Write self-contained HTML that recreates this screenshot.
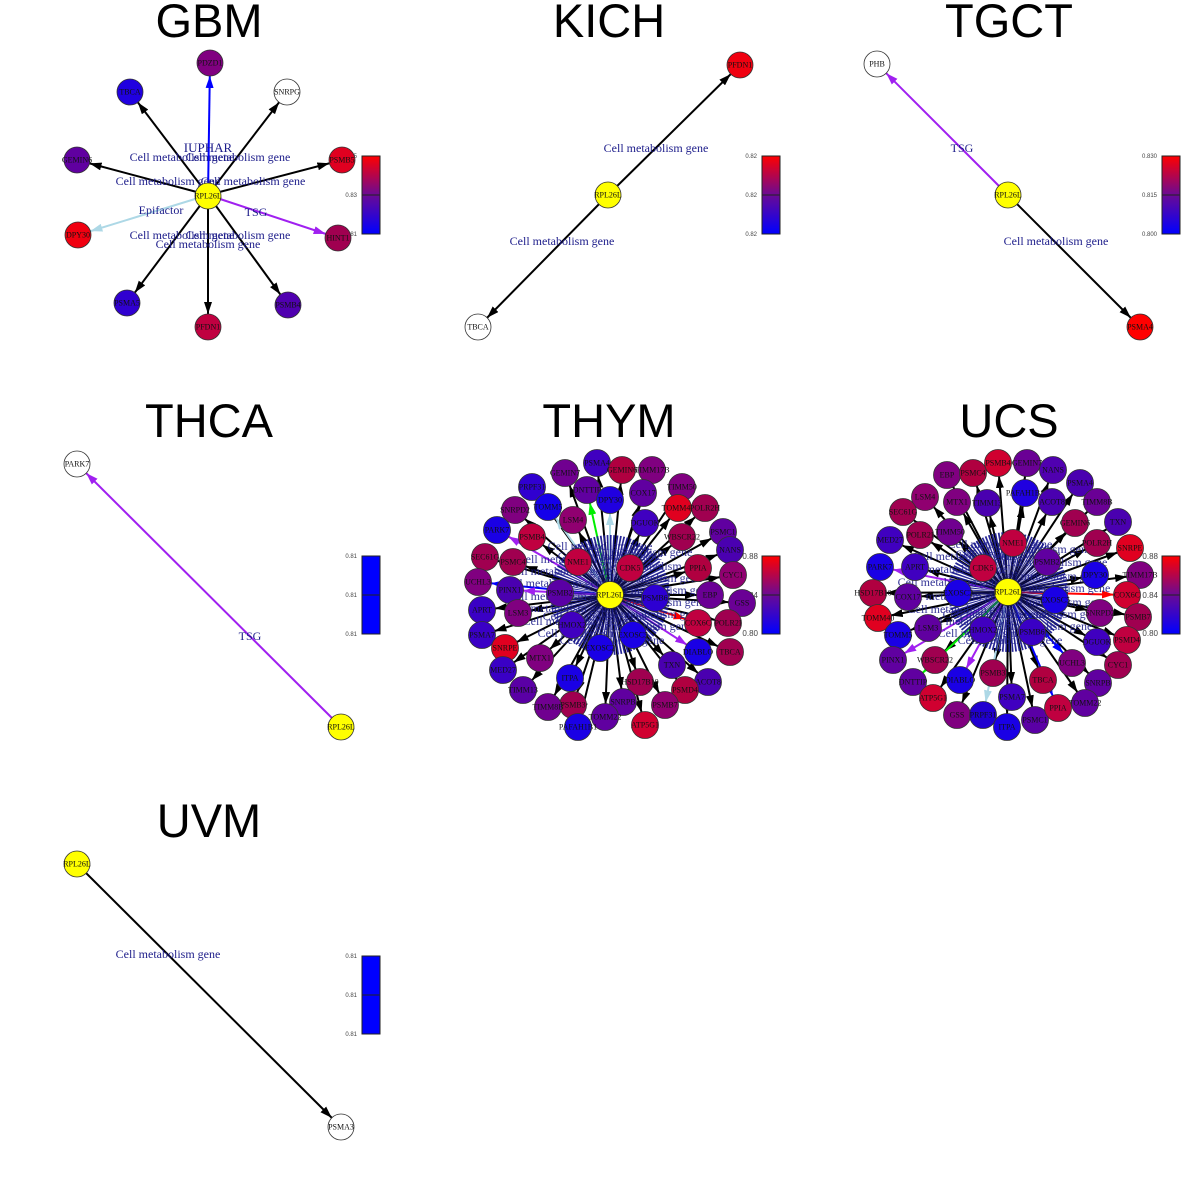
<!DOCTYPE html>
<html><head><meta charset="utf-8">
<style>
html,body{margin:0;padding:0;background:#fff;}
svg{display:block;}
.t{font-family:"Liberation Sans",sans-serif;font-size:47px;text-anchor:middle;fill:#000;}
.n circle{stroke:#333;stroke-width:0.8;}
.n text{font-family:"Liberation Serif",serif;font-size:8px;text-anchor:middle;dominant-baseline:central;fill:#111;}
.l{font-family:"Liberation Serif",serif;font-size:12px;fill:#1c1c8a;text-anchor:middle;}
.lm{font-family:"Liberation Serif",serif;font-size:12px;fill:#1c1c8a;text-anchor:middle;opacity:0.9;}
.cb{font-family:"Liberation Sans",sans-serif;font-size:6px;fill:#444;text-anchor:end;}
.cb2{font-family:"Liberation Sans",sans-serif;font-size:8px;fill:#444;text-anchor:end;}
.e{stroke:#000;stroke-width:2;marker-end:url(#ak);}
.eb{stroke:#0000ff;stroke-width:2;marker-end:url(#ab);}
.el{stroke:#add8e6;stroke-width:2;marker-end:url(#al);}
.ep{stroke:#a020f0;stroke-width:2;marker-end:url(#ap);}
.eg{stroke:#00ee00;stroke-width:2;marker-end:url(#ag);}
.er{stroke:#ff0000;stroke-width:2;marker-end:url(#ar);}
</style></head><body>
<svg width="1200" height="1200" viewBox="0 0 1200 1200" xmlns="http://www.w3.org/2000/svg">
<defs>
<marker id="ak" viewBox="0 0 12 8" refX="25" refY="4" markerWidth="12" markerHeight="8" markerUnits="userSpaceOnUse" orient="auto"><path d="M0,0L12,4L0,8z" fill="#000"/></marker>
<marker id="ab" viewBox="0 0 12 8" refX="25" refY="4" markerWidth="12" markerHeight="8" markerUnits="userSpaceOnUse" orient="auto"><path d="M0,0L12,4L0,8z" fill="#0000ff"/></marker>
<marker id="al" viewBox="0 0 12 8" refX="25" refY="4" markerWidth="12" markerHeight="8" markerUnits="userSpaceOnUse" orient="auto"><path d="M0,0L12,4L0,8z" fill="#add8e6"/></marker>
<marker id="ap" viewBox="0 0 12 8" refX="25" refY="4" markerWidth="12" markerHeight="8" markerUnits="userSpaceOnUse" orient="auto"><path d="M0,0L12,4L0,8z" fill="#a020f0"/></marker>
<marker id="ag" viewBox="0 0 12 8" refX="25" refY="4" markerWidth="12" markerHeight="8" markerUnits="userSpaceOnUse" orient="auto"><path d="M0,0L12,4L0,8z" fill="#00ee00"/></marker>
<marker id="ar" viewBox="0 0 12 8" refX="25" refY="4" markerWidth="12" markerHeight="8" markerUnits="userSpaceOnUse" orient="auto"><path d="M0,0L12,4L0,8z" fill="#ff0000"/></marker>
<linearGradient id="gr" x1="0" y1="0" x2="0" y2="1"><stop offset="0" stop-color="#ff0000"/><stop offset="0.5" stop-color="#6a0a95"/><stop offset="1" stop-color="#0000ff"/></linearGradient>
</defs>

<!-- Titles -->
<text class="t" x="209" y="37">GBM</text>
<text class="t" x="609" y="37">KICH</text>
<text class="t" x="1009" y="37">TGCT</text>
<text class="t" x="209" y="437">THCA</text>
<text class="t" x="609" y="437">THYM</text>
<text class="t" x="1009" y="437">UCS</text>
<text class="t" x="209" y="837">UVM</text>

<!-- Colorbars -->
<g stroke="#222" stroke-width="1">
<rect x="362" y="156" width="18" height="78" fill="url(#gr)"/><line x1="362" y1="195" x2="380" y2="195"/>
<rect x="762" y="156" width="18" height="78" fill="url(#gr)"/><line x1="762" y1="195" x2="780" y2="195"/>
<rect x="1162" y="156" width="18" height="78" fill="url(#gr)"/><line x1="1162" y1="195" x2="1180" y2="195"/>
<rect x="362" y="556" width="18" height="78" fill="#0000ff"/><line x1="362" y1="595" x2="380" y2="595"/>
<rect x="762" y="556" width="18" height="78" fill="url(#gr)"/><line x1="762" y1="595" x2="780" y2="595"/>
<rect x="1162" y="556" width="18" height="78" fill="url(#gr)"/><line x1="1162" y1="595" x2="1180" y2="595"/>
<rect x="362" y="956" width="18" height="78" fill="#0000ff"/><line x1="362" y1="995" x2="380" y2="995"/>
</g>
<text class="cb" x="357" y="158">0.85</text><text class="cb" x="357" y="197">0.83</text><text class="cb" x="357" y="236">0.81</text>
<text class="cb" x="757" y="158">0.82</text><text class="cb" x="757" y="197">0.82</text><text class="cb" x="757" y="236">0.82</text>
<text class="cb" x="1157" y="158">0.830</text><text class="cb" x="1157" y="197">0.815</text><text class="cb" x="1157" y="236">0.800</text>
<text class="cb" x="357" y="558">0.81</text><text class="cb" x="357" y="597">0.81</text><text class="cb" x="357" y="636">0.81</text>
<text class="cb2" x="758" y="559">0.88</text><text class="cb2" x="758" y="598">0.84</text><text class="cb2" x="758" y="636">0.80</text>
<text class="cb2" x="1158" y="559">0.88</text><text class="cb2" x="1158" y="598">0.84</text><text class="cb2" x="1158" y="636">0.80</text>
<text class="cb" x="357" y="958">0.81</text><text class="cb" x="357" y="997">0.81</text><text class="cb" x="357" y="1036">0.81</text>

<!-- GBM -->
<g>
<line class="eb" x1="208" y1="195" x2="210" y2="63"/>
<line class="e" x1="208" y1="195" x2="130" y2="92"/>
<line class="e" x1="208" y1="195" x2="287" y2="92"/>
<line class="e" x1="208" y1="195" x2="77" y2="160"/>
<line class="e" x1="208" y1="195" x2="342" y2="160"/>
<line class="el" x1="208" y1="195" x2="78" y2="235"/>
<line class="ep" x1="208" y1="195" x2="338" y2="238"/>
<line class="e" x1="208" y1="195" x2="127" y2="303"/>
<line class="e" x1="208" y1="195" x2="288" y2="305"/>
<line class="e" x1="208" y1="195" x2="208" y2="327"/>
</g>
<text class="l" x="208" y="152" style="font-size:13px">IUPHAR</text>
<text class="l" x="182" y="161">Cell metabolism gene</text>
<text class="l" x="238" y="161">Cell metabolism gene</text>
<text class="l" x="168" y="185">Cell metabolism gene</text>
<text class="l" x="253" y="185">Cell metabolism gene</text>
<text class="l" x="161" y="214">Epifactor</text>
<text class="l" x="256" y="216">TSG</text>
<text class="l" x="182" y="239">Cell metabolism gene</text>
<text class="l" x="238" y="239">Cell metabolism gene</text>
<text class="l" x="208" y="248">Cell metabolism gene</text>
<g class="n">
<circle cx="210" cy="63" r="13" fill="#800080"/><text x="210" y="63">PDZD1</text>
<circle cx="130" cy="92" r="13" fill="#2000e0"/><text x="130" y="92">TBCA</text>
<circle cx="287" cy="92" r="13" fill="#fff"/><text x="287" y="92">SNRPG</text>
<circle cx="77" cy="160" r="13" fill="#6000a0"/><text x="77" y="160">GEMIN6</text>
<circle cx="342" cy="160" r="13" fill="#e00020"/><text x="342" y="160">PSMB5</text>
<circle cx="78" cy="235" r="13" fill="#f00010"/><text x="78" y="235">DPY30</text>
<circle cx="338" cy="238" r="13" fill="#a00050"/><text x="338" y="238">HINT1</text>
<circle cx="127" cy="303" r="13" fill="#3000d0"/><text x="127" y="303">PSMA5</text>
<circle cx="288" cy="305" r="13" fill="#5000b0"/><text x="288" y="305">PSMB4</text>
<circle cx="208" cy="327" r="13" fill="#c00040"/><text x="208" y="327">PFDN1</text>
<circle cx="208" cy="196" r="13" fill="#ffff00"/><text x="208" y="196">RPL26L</text>
</g>

<!-- KICH -->
<line class="e" x1="608" y1="195" x2="740" y2="65"/>
<line class="e" x1="608" y1="195" x2="478" y2="327"/>
<text class="l" x="656" y="152">Cell metabolism gene</text>
<text class="l" x="562" y="245">Cell metabolism gene</text>
<g class="n">
<circle cx="740" cy="65" r="13" fill="#f00010"/><text x="740" y="65">PFDN1</text>
<circle cx="478" cy="327" r="13" fill="#fff"/><text x="478" y="327">TBCA</text>
<circle cx="608" cy="195" r="13" fill="#ffff00"/><text x="608" y="195">RPL26L</text>
</g>

<!-- TGCT -->
<line class="ep" x1="1008" y1="195" x2="877" y2="64"/>
<line class="e" x1="1008" y1="195" x2="1140" y2="327"/>
<text class="l" x="962" y="152">TSG</text>
<text class="l" x="1056" y="245">Cell metabolism gene</text>
<g class="n">
<circle cx="877" cy="64" r="13" fill="#fff"/><text x="877" y="64">PHB</text>
<circle cx="1140" cy="327" r="13" fill="#ff0000"/><text x="1140" y="327">PSMA4</text>
<circle cx="1008" cy="195" r="13" fill="#ffff00"/><text x="1008" y="195">RPL26L</text>
</g>

<!-- THCA -->
<line class="ep" x1="341" y1="727" x2="77" y2="464"/>
<text class="l" x="250" y="640">TSG</text>
<g class="n">
<circle cx="77" cy="464" r="13" fill="#fff"/><text x="77" y="464">PARK7</text>
<circle cx="341" cy="727" r="13" fill="#ffff00"/><text x="341" y="727">RPL26L</text>
</g>

<!-- UVM -->
<line class="e" x1="77" y1="864" x2="341" y2="1127"/>
<text class="l" x="168" y="958">Cell metabolism gene</text>
<g class="n">
<circle cx="341" cy="1127" r="13" fill="#fff"/><text x="341" y="1127">PSMA3</text>
<circle cx="77" cy="864" r="13" fill="#ffff00"/><text x="77" y="864">RPL26L</text>
</g>

<!-- THYM -->
<g>
<line class="e" x1="610" y1="595" x2="597" y2="463"/>
<line class="e" x1="610" y1="595" x2="565" y2="473"/>
<line class="e" x1="610" y1="595" x2="622" y2="470"/>
<line class="e" x1="610" y1="595" x2="652" y2="470"/>
<line class="e" x1="610" y1="595" x2="682" y2="487"/>
<line class="eg" x1="610" y1="595" x2="587" y2="490"/>
<line class="e" x1="610" y1="595" x2="643" y2="493"/>
<line class="e" x1="610" y1="595" x2="532" y2="487"/>
<line class="el" x1="610" y1="595" x2="548" y2="507"/>
<line class="el" x1="610" y1="595" x2="610" y2="500"/>
<line class="e" x1="610" y1="595" x2="678" y2="508"/>
<line class="e" x1="610" y1="595" x2="705" y2="508"/>
<line class="e" x1="610" y1="595" x2="515" y2="510"/>
<line class="e" x1="610" y1="595" x2="573" y2="520"/>
<line class="e" x1="610" y1="595" x2="645" y2="523"/>
<line class="ep" x1="610" y1="595" x2="497" y2="530"/>
<line class="e" x1="610" y1="595" x2="532" y2="537"/>
<line class="e" x1="610" y1="595" x2="682" y2="537"/>
<line class="e" x1="610" y1="595" x2="723" y2="532"/>
<line class="e" x1="610" y1="595" x2="730" y2="550"/>
<line class="e" x1="610" y1="595" x2="485" y2="557"/>
<line class="e" x1="610" y1="595" x2="513" y2="562"/>
<line class="e" x1="610" y1="595" x2="698" y2="568"/>
<line class="e" x1="610" y1="595" x2="733" y2="575"/>
<line class="eb" x1="610" y1="595" x2="478" y2="582"/>
<line class="ep" x1="610" y1="595" x2="510" y2="590"/>
<line class="e" x1="610" y1="595" x2="710" y2="595"/>
<line class="e" x1="610" y1="595" x2="742" y2="603"/>
<line class="e" x1="610" y1="595" x2="482" y2="610"/>
<line class="e" x1="610" y1="595" x2="518" y2="613"/>
<line class="er" x1="610" y1="595" x2="698" y2="623"/>
<line class="e" x1="610" y1="595" x2="728" y2="623"/>
<line class="e" x1="610" y1="595" x2="482" y2="635"/>
<line class="e" x1="610" y1="595" x2="505" y2="648"/>
<line class="ep" x1="610" y1="595" x2="698" y2="652"/>
<line class="e" x1="610" y1="595" x2="730" y2="652"/>
<line class="e" x1="610" y1="595" x2="540" y2="658"/>
<line class="e" x1="610" y1="595" x2="503" y2="670"/>
<line class="e" x1="610" y1="595" x2="672" y2="665"/>
<line class="e" x1="610" y1="595" x2="570" y2="678"/>
<line class="e" x1="610" y1="595" x2="708" y2="682"/>
<line class="e" x1="610" y1="595" x2="640" y2="682"/>
<line class="e" x1="610" y1="595" x2="523" y2="690"/>
<line class="e" x1="610" y1="595" x2="685" y2="690"/>
<line class="e" x1="610" y1="595" x2="623" y2="702"/>
<line class="e" x1="610" y1="595" x2="573" y2="705"/>
<line class="e" x1="610" y1="595" x2="665" y2="705"/>
<line class="e" x1="610" y1="595" x2="548" y2="707"/>
<line class="e" x1="610" y1="595" x2="605" y2="717"/>
<line class="e" x1="610" y1="595" x2="645" y2="725"/>
<line class="e" x1="610" y1="595" x2="578" y2="727"/>
</g>
<circle cx="610" cy="595" r="30" fill="none" stroke="#1a1a90" stroke-width="60" stroke-dasharray="0.9 0.8" opacity="0.95"/>
<g class="lm">
<text x="600" y="550">Cell metabolism gene</text><text x="640" y="556">Cell metabolism gene</text>
<text x="570" y="563">Cell metabolism gene</text><text x="655" y="570">Cell metabolism gene</text>
<text x="560" y="575">Cell metabolism gene</text><text x="650" y="582">Cell metabolism gene</text>
<text x="555" y="587">Cell metabolism gene</text><text x="660" y="594">Cell metabolism gene</text>
<text x="560" y="600">Cell metabolism gene</text><text x="655" y="606">Cell metabolism gene</text>
<text x="560" y="612">Cell metabolism gene</text><text x="650" y="618">Cell metabolism gene</text>
<text x="575" y="625">Cell metabolism gene</text><text x="640" y="630">Cell metabolism gene</text>
<text x="590" y="637">Cell metabolism gene</text><text x="612" y="644">Cell metabolism gene</text>
<text x="610" y="560">Cell metabolism gene</text><text x="595" y="620">Cell metabolism gene</text>
</g>
<g class="n">
<circle cx="597" cy="463" r="13.5" fill="#4000c0"/><text x="597" y="463">PSMA4</text>
<circle cx="565" cy="473" r="13.5" fill="#700090"/><text x="565" y="473">GEMIN7</text>
<circle cx="622" cy="470" r="13.5" fill="#b00040"/><text x="622" y="470">GEMIN6</text>
<circle cx="652" cy="470" r="13.5" fill="#800080"/><text x="652" y="470">TIMM17B</text>
<circle cx="682" cy="487" r="13.5" fill="#800080"/><text x="682" y="487">TIMM50</text>
<circle cx="587" cy="490" r="13.5" fill="#6000a0"/><text x="587" y="490">DNTTIP</text>
<circle cx="643" cy="493" r="13.5" fill="#6000a0"/><text x="643" y="493">COX17</text>
<circle cx="532" cy="487" r="13.5" fill="#3000d0"/><text x="532" y="487">PRPF31</text>
<circle cx="548" cy="507" r="13.5" fill="#1500ea"/><text x="548" y="507">TOMM5</text>
<circle cx="610" cy="500" r="13.5" fill="#2000e0"/><text x="610" y="500">DPY30</text>
<circle cx="678" cy="508" r="13.5" fill="#e0001f"/><text x="678" y="508">TOMM40</text>
<circle cx="705" cy="508" r="13.5" fill="#a00050"/><text x="705" y="508">POLR2H</text>
<circle cx="515" cy="510" r="13.5" fill="#800080"/><text x="515" y="510">SNRPD2</text>
<circle cx="573" cy="520" r="13.5" fill="#900070"/><text x="573" y="520">LSM4</text>
<circle cx="645" cy="523" r="13.5" fill="#4000c0"/><text x="645" y="523">DGUOK</text>
<circle cx="497" cy="530" r="13.5" fill="#1a00e5"/><text x="497" y="530">PARK7</text>
<circle cx="532" cy="537" r="13.5" fill="#c00040"/><text x="532" y="537">PSMB4</text>
<circle cx="682" cy="537" r="13.5" fill="#a00050"/><text x="682" y="537">WBSCR22</text>
<circle cx="723" cy="532" r="13.5" fill="#6000a0"/><text x="723" y="532">PSMC1</text>
<circle cx="730" cy="550" r="13.5" fill="#4a00b0"/><text x="730" y="550">NANS</text>
<circle cx="485" cy="557" r="13.5" fill="#a00050"/><text x="485" y="557">SEC61G</text>
<circle cx="513" cy="562" r="13.5" fill="#a00050"/><text x="513" y="562">PSMC4</text>
<circle cx="578" cy="562" r="13.5" fill="#c00040"/><text x="578" y="562">NME1</text>
<circle cx="630" cy="568" r="13.5" fill="#c00040"/><text x="630" y="568">CDK5</text>
<circle cx="698" cy="568" r="13.5" fill="#b00040"/><text x="698" y="568">PPIA</text>
<circle cx="733" cy="575" r="13.5" fill="#900070"/><text x="733" y="575">CYC1</text>
<circle cx="478" cy="582" r="13.5" fill="#800080"/><text x="478" y="582">UCHL3</text>
<circle cx="510" cy="590" r="13.5" fill="#4a00b0"/><text x="510" y="590">PINX1</text>
<circle cx="560" cy="593" r="13.5" fill="#5a00a5"/><text x="560" y="593">PSMB2</text>
<circle cx="655" cy="598" r="13.5" fill="#2d00d2"/><text x="655" y="598">PSMB6</text>
<circle cx="710" cy="595" r="13.5" fill="#6a0095"/><text x="710" y="595">EBP</text>
<circle cx="742" cy="603" r="13.5" fill="#6a0095"/><text x="742" y="603">GSS</text>
<circle cx="482" cy="610" r="13.5" fill="#3a00c5"/><text x="482" y="610">APRT</text>
<circle cx="518" cy="613" r="13.5" fill="#800080"/><text x="518" y="613">LSM3</text>
<circle cx="572" cy="625" r="13.5" fill="#4000c0"/><text x="572" y="625">HMOX2</text>
<circle cx="698" cy="623" r="13.5" fill="#c00040"/><text x="698" y="623">COX6C</text>
<circle cx="728" cy="623" r="13.5" fill="#a00050"/><text x="728" y="623">POLR2I</text>
<circle cx="482" cy="635" r="13.5" fill="#3a00c5"/><text x="482" y="635">PSMA7</text>
<circle cx="633" cy="635" r="13.5" fill="#1a00e5"/><text x="633" y="635">EXOSC5</text>
<circle cx="600" cy="648" r="13.5" fill="#1a00e5"/><text x="600" y="648">EXOSC2</text>
<circle cx="505" cy="648" r="13.5" fill="#e00020"/><text x="505" y="648">SNRPE</text>
<circle cx="698" cy="652" r="13.5" fill="#1a00e5"/><text x="698" y="652">DIABLO</text>
<circle cx="730" cy="652" r="13.5" fill="#a00050"/><text x="730" y="652">TBCA</text>
<circle cx="540" cy="658" r="13.5" fill="#800080"/><text x="540" y="658">MTX1</text>
<circle cx="503" cy="670" r="13.5" fill="#3a00c5"/><text x="503" y="670">MED27</text>
<circle cx="672" cy="665" r="13.5" fill="#4a00b0"/><text x="672" y="665">TXN</text>
<circle cx="570" cy="678" r="13.5" fill="#1a00e5"/><text x="570" y="678">ITPA</text>
<circle cx="708" cy="682" r="13.5" fill="#4a00b0"/><text x="708" y="682">ACOT8</text>
<circle cx="640" cy="682" r="13.5" fill="#a00050"/><text x="640" y="682">HSD17B10</text>
<circle cx="523" cy="690" r="13.5" fill="#5a00a5"/><text x="523" y="690">TIMM13</text>
<circle cx="685" cy="690" r="13.5" fill="#b00040"/><text x="685" y="690">PSMD4</text>
<circle cx="623" cy="702" r="13.5" fill="#6000a0"/><text x="623" y="702">SNRPB</text>
<circle cx="573" cy="705" r="13.5" fill="#a00050"/><text x="573" y="705">PSMB3</text>
<circle cx="665" cy="705" r="13.5" fill="#900070"/><text x="665" y="705">PSMB7</text>
<circle cx="548" cy="707" r="13.5" fill="#700090"/><text x="548" y="707">TIMM8B</text>
<circle cx="605" cy="717" r="13.5" fill="#6000a0"/><text x="605" y="717">TOMM22</text>
<circle cx="645" cy="725" r="13.5" fill="#d00030"/><text x="645" y="725">ATP5G1</text>
<circle cx="578" cy="727" r="13.5" fill="#1a00e5"/><text x="578" y="727">PAFAH1B1</text>
<circle cx="610" cy="595" r="13.5" fill="#ffff00"/><text x="610" y="595">RPL26L</text>
</g>

<!-- UCS -->
<g>
<line class="e" x1="1008" y1="592" x2="998" y2="463"/>
<line class="e" x1="1008" y1="592" x2="1027" y2="463"/>
<line class="e" x1="1008" y1="592" x2="947" y2="475"/>
<line class="e" x1="1008" y1="592" x2="973" y2="473"/>
<line class="e" x1="1008" y1="592" x2="1053" y2="470"/>
<line class="e" x1="1008" y1="592" x2="1080" y2="483"/>
<line class="e" x1="1008" y1="592" x2="925" y2="497"/>
<line class="e" x1="1008" y1="592" x2="957" y2="502"/>
<line class="e" x1="1008" y1="592" x2="987" y2="503"/>
<line class="e" x1="1008" y1="592" x2="1025" y2="493"/>
<line class="e" x1="1008" y1="592" x2="1052" y2="502"/>
<line class="e" x1="1008" y1="592" x2="1097" y2="502"/>
<line class="e" x1="1008" y1="592" x2="903" y2="512"/>
<line class="e" x1="1008" y1="592" x2="1075" y2="523"/>
<line class="e" x1="1008" y1="592" x2="1118" y2="522"/>
<line class="e" x1="1008" y1="592" x2="920" y2="535"/>
<line class="e" x1="1008" y1="592" x2="950" y2="532"/>
<line class="e" x1="1008" y1="592" x2="890" y2="540"/>
<line class="e" x1="1008" y1="592" x2="1097" y2="543"/>
<line class="e" x1="1008" y1="592" x2="1130" y2="548"/>
<line class="ep" x1="1008" y1="592" x2="880" y2="567"/>
<line class="e" x1="1008" y1="592" x2="915" y2="567"/>
<line class="e" x1="1008" y1="592" x2="1095" y2="575"/>
<line class="e" x1="1008" y1="592" x2="1140" y2="575"/>
<line class="e" x1="1008" y1="592" x2="873" y2="593"/>
<line class="e" x1="1008" y1="592" x2="908" y2="597"/>
<line class="er" x1="1008" y1="592" x2="1127" y2="595"/>
<line class="e" x1="1008" y1="592" x2="1100" y2="613"/>
<line class="e" x1="1008" y1="592" x2="1138" y2="617"/>
<line class="e" x1="1008" y1="592" x2="878" y2="618"/>
<line class="e" x1="1008" y1="592" x2="928" y2="628"/>
<line class="e" x1="1008" y1="592" x2="898" y2="635"/>
<line class="e" x1="1008" y1="592" x2="1097" y2="642"/>
<line class="e" x1="1008" y1="592" x2="1127" y2="640"/>
<line class="ep" x1="1008" y1="592" x2="893" y2="660"/>
<line class="e" x1="1008" y1="592" x2="935" y2="660"/>
<line class="eb" x1="1008" y1="592" x2="1072" y2="663"/>
<line class="e" x1="1008" y1="592" x2="1118" y2="665"/>
<line class="eg" x1="1008" y1="592" x2="913" y2="682"/>
<line class="ep" x1="1008" y1="592" x2="960" y2="680"/>
<line class="e" x1="1008" y1="592" x2="993" y2="673"/>
<line class="e" x1="1008" y1="592" x2="1043" y2="680"/>
<line class="e" x1="1008" y1="592" x2="1098" y2="683"/>
<line class="e" x1="1008" y1="592" x2="933" y2="698"/>
<line class="e" x1="1008" y1="592" x2="1012" y2="697"/>
<line class="e" x1="1008" y1="592" x2="1085" y2="703"/>
<line class="e" x1="1008" y1="592" x2="957" y2="715"/>
<line class="el" x1="1008" y1="592" x2="983" y2="715"/>
<line class="e" x1="1008" y1="592" x2="1035" y2="720"/>
<line class="eb" x1="1008" y1="592" x2="1058" y2="708"/>
<line class="e" x1="1008" y1="592" x2="1007" y2="727"/>
</g>
<circle cx="1008" cy="592" r="30" fill="none" stroke="#1a1a90" stroke-width="60" stroke-dasharray="0.9 0.8" opacity="0.95"/>
<g class="lm">
<text x="1000" y="548">Cell metabolism gene</text><text x="1040" y="553">Cell metabolism gene</text>
<text x="965" y="560">Cell metabolism gene</text><text x="1055" y="566">Cell metabolism gene</text>
<text x="955" y="573">Cell metabolism gene</text><text x="1050" y="580">Cell metabolism gene</text>
<text x="950" y="586">Cell metabolism gene</text><text x="1058" y="592">Cell metabolism gene</text>
<text x="955" y="600">Cell metabolism gene</text><text x="1055" y="606">Cell metabolism gene</text>
<text x="960" y="613">Cell metabolism gene</text><text x="1050" y="618">Cell metabolism gene</text>
<text x="975" y="625">Cell metabolism gene</text><text x="1040" y="630">Cell metabolism gene</text>
<text x="990" y="637">Cell metabolism gene</text><text x="1010" y="644">Cell metabolism gene</text>
<text x="1008" y="558">Cell metabolism gene</text><text x="995" y="618">Cell metabolism gene</text>
</g>
<g class="n">
<circle cx="998" cy="463" r="13.5" fill="#d00030"/><text x="998" y="463">PSMB4</text>
<circle cx="1027" cy="463" r="13.5" fill="#6a0095"/><text x="1027" y="463">GEMIN7</text>
<circle cx="947" cy="475" r="13.5" fill="#800080"/><text x="947" y="475">EBP</text>
<circle cx="973" cy="473" r="13.5" fill="#b00040"/><text x="973" y="473">PSMC4</text>
<circle cx="1053" cy="470" r="13.5" fill="#5000b0"/><text x="1053" y="470">NANS</text>
<circle cx="1080" cy="483" r="13.5" fill="#4a00b0"/><text x="1080" y="483">PSMA4</text>
<circle cx="925" cy="497" r="13.5" fill="#900070"/><text x="925" y="497">LSM4</text>
<circle cx="957" cy="502" r="13.5" fill="#800080"/><text x="957" y="502">MTX1</text>
<circle cx="987" cy="503" r="13.5" fill="#4a00b0"/><text x="987" y="503">TIMM13</text>
<circle cx="1025" cy="493" r="13.5" fill="#2000e0"/><text x="1025" y="493">PAFAH1B1</text>
<circle cx="1052" cy="502" r="13.5" fill="#4a00b0"/><text x="1052" y="502">ACOT8</text>
<circle cx="1097" cy="502" r="13.5" fill="#6a0095"/><text x="1097" y="502">TIMM8B</text>
<circle cx="903" cy="512" r="13.5" fill="#a00050"/><text x="903" y="512">SEC61G</text>
<circle cx="1075" cy="523" r="13.5" fill="#a00050"/><text x="1075" y="523">GEMIN6</text>
<circle cx="1118" cy="522" r="13.5" fill="#4a00b0"/><text x="1118" y="522">TXN</text>
<circle cx="920" cy="535" r="13.5" fill="#a00050"/><text x="920" y="535">POLR2I</text>
<circle cx="950" cy="532" r="13.5" fill="#700090"/><text x="950" y="532">TIMM50</text>
<circle cx="890" cy="540" r="13.5" fill="#4000c0"/><text x="890" y="540">MED27</text>
<circle cx="1013" cy="543" r="13.5" fill="#c00040"/><text x="1013" y="543">NME1</text>
<circle cx="1097" cy="543" r="13.5" fill="#a00050"/><text x="1097" y="543">POLR2H</text>
<circle cx="1130" cy="548" r="13.5" fill="#e00020"/><text x="1130" y="548">SNRPE</text>
<circle cx="983" cy="568" r="13.5" fill="#c00040"/><text x="983" y="568">CDK5</text>
<circle cx="1047" cy="562" r="13.5" fill="#6000a0"/><text x="1047" y="562">PSMB2</text>
<circle cx="880" cy="567" r="13.5" fill="#1a00e5"/><text x="880" y="567">PARK7</text>
<circle cx="915" cy="567" r="13.5" fill="#4000c0"/><text x="915" y="567">APRT</text>
<circle cx="1095" cy="575" r="13.5" fill="#1a00e5"/><text x="1095" y="575">DPY30</text>
<circle cx="1140" cy="575" r="13.5" fill="#800080"/><text x="1140" y="575">TIMM17B</text>
<circle cx="873" cy="593" r="13.5" fill="#b00040"/><text x="873" y="593">HSD17B10</text>
<circle cx="908" cy="597" r="13.5" fill="#6000a0"/><text x="908" y="597">COX17</text>
<circle cx="958" cy="593" r="13.5" fill="#1a00e5"/><text x="958" y="593">EXOSC2</text>
<circle cx="1055" cy="600" r="13.5" fill="#1a00e5"/><text x="1055" y="600">EXOSC5</text>
<circle cx="1127" cy="595" r="13.5" fill="#d00030"/><text x="1127" y="595">COX6C</text>
<circle cx="1100" cy="613" r="13.5" fill="#800080"/><text x="1100" y="613">SNRPD2</text>
<circle cx="1138" cy="617" r="13.5" fill="#a00050"/><text x="1138" y="617">PSMB7</text>
<circle cx="878" cy="618" r="13.5" fill="#e00020"/><text x="878" y="618">TOMM40</text>
<circle cx="928" cy="628" r="13.5" fill="#6000a0"/><text x="928" y="628">LSM3</text>
<circle cx="983" cy="630" r="13.5" fill="#4000c0"/><text x="983" y="630">HMOX2</text>
<circle cx="1032" cy="632" r="13.5" fill="#3a00c5"/><text x="1032" y="632">PSMB6</text>
<circle cx="898" cy="635" r="13.5" fill="#1a00e5"/><text x="898" y="635">TOMM5</text>
<circle cx="1097" cy="642" r="13.5" fill="#4000c0"/><text x="1097" y="642">DGUOK</text>
<circle cx="1127" cy="640" r="13.5" fill="#c00040"/><text x="1127" y="640">PSMD4</text>
<circle cx="893" cy="660" r="13.5" fill="#6000a0"/><text x="893" y="660">PINX1</text>
<circle cx="935" cy="660" r="13.5" fill="#a00050"/><text x="935" y="660">WBSCR22</text>
<circle cx="1072" cy="663" r="13.5" fill="#800080"/><text x="1072" y="663">UCHL3</text>
<circle cx="1118" cy="665" r="13.5" fill="#a00050"/><text x="1118" y="665">CYC1</text>
<circle cx="913" cy="682" r="13.5" fill="#6000a0"/><text x="913" y="682">DNTTIP</text>
<circle cx="960" cy="680" r="13.5" fill="#1a00e5"/><text x="960" y="680">DIABLO</text>
<circle cx="993" cy="673" r="13.5" fill="#a00050"/><text x="993" y="673">PSMB3</text>
<circle cx="1043" cy="680" r="13.5" fill="#b00040"/><text x="1043" y="680">TBCA</text>
<circle cx="1098" cy="683" r="13.5" fill="#6000a0"/><text x="1098" y="683">SNRPB</text>
<circle cx="933" cy="698" r="13.5" fill="#d00030"/><text x="933" y="698">ATP5G1</text>
<circle cx="1012" cy="697" r="13.5" fill="#4000c0"/><text x="1012" y="697">PSMA7</text>
<circle cx="1085" cy="703" r="13.5" fill="#6000a0"/><text x="1085" y="703">TOMM22</text>
<circle cx="957" cy="715" r="13.5" fill="#800080"/><text x="957" y="715">GSS</text>
<circle cx="983" cy="715" r="13.5" fill="#2000d0"/><text x="983" y="715">PRPF31</text>
<circle cx="1035" cy="720" r="13.5" fill="#5a00a5"/><text x="1035" y="720">PSMC1</text>
<circle cx="1058" cy="708" r="13.5" fill="#c00040"/><text x="1058" y="708">PPIA</text>
<circle cx="1007" cy="727" r="13.5" fill="#1a00e5"/><text x="1007" y="727">ITPA</text>
<circle cx="1008" cy="592" r="13.5" fill="#ffff00"/><text x="1008" y="592">RPL26L</text>
</g>
</svg>
</body></html>
